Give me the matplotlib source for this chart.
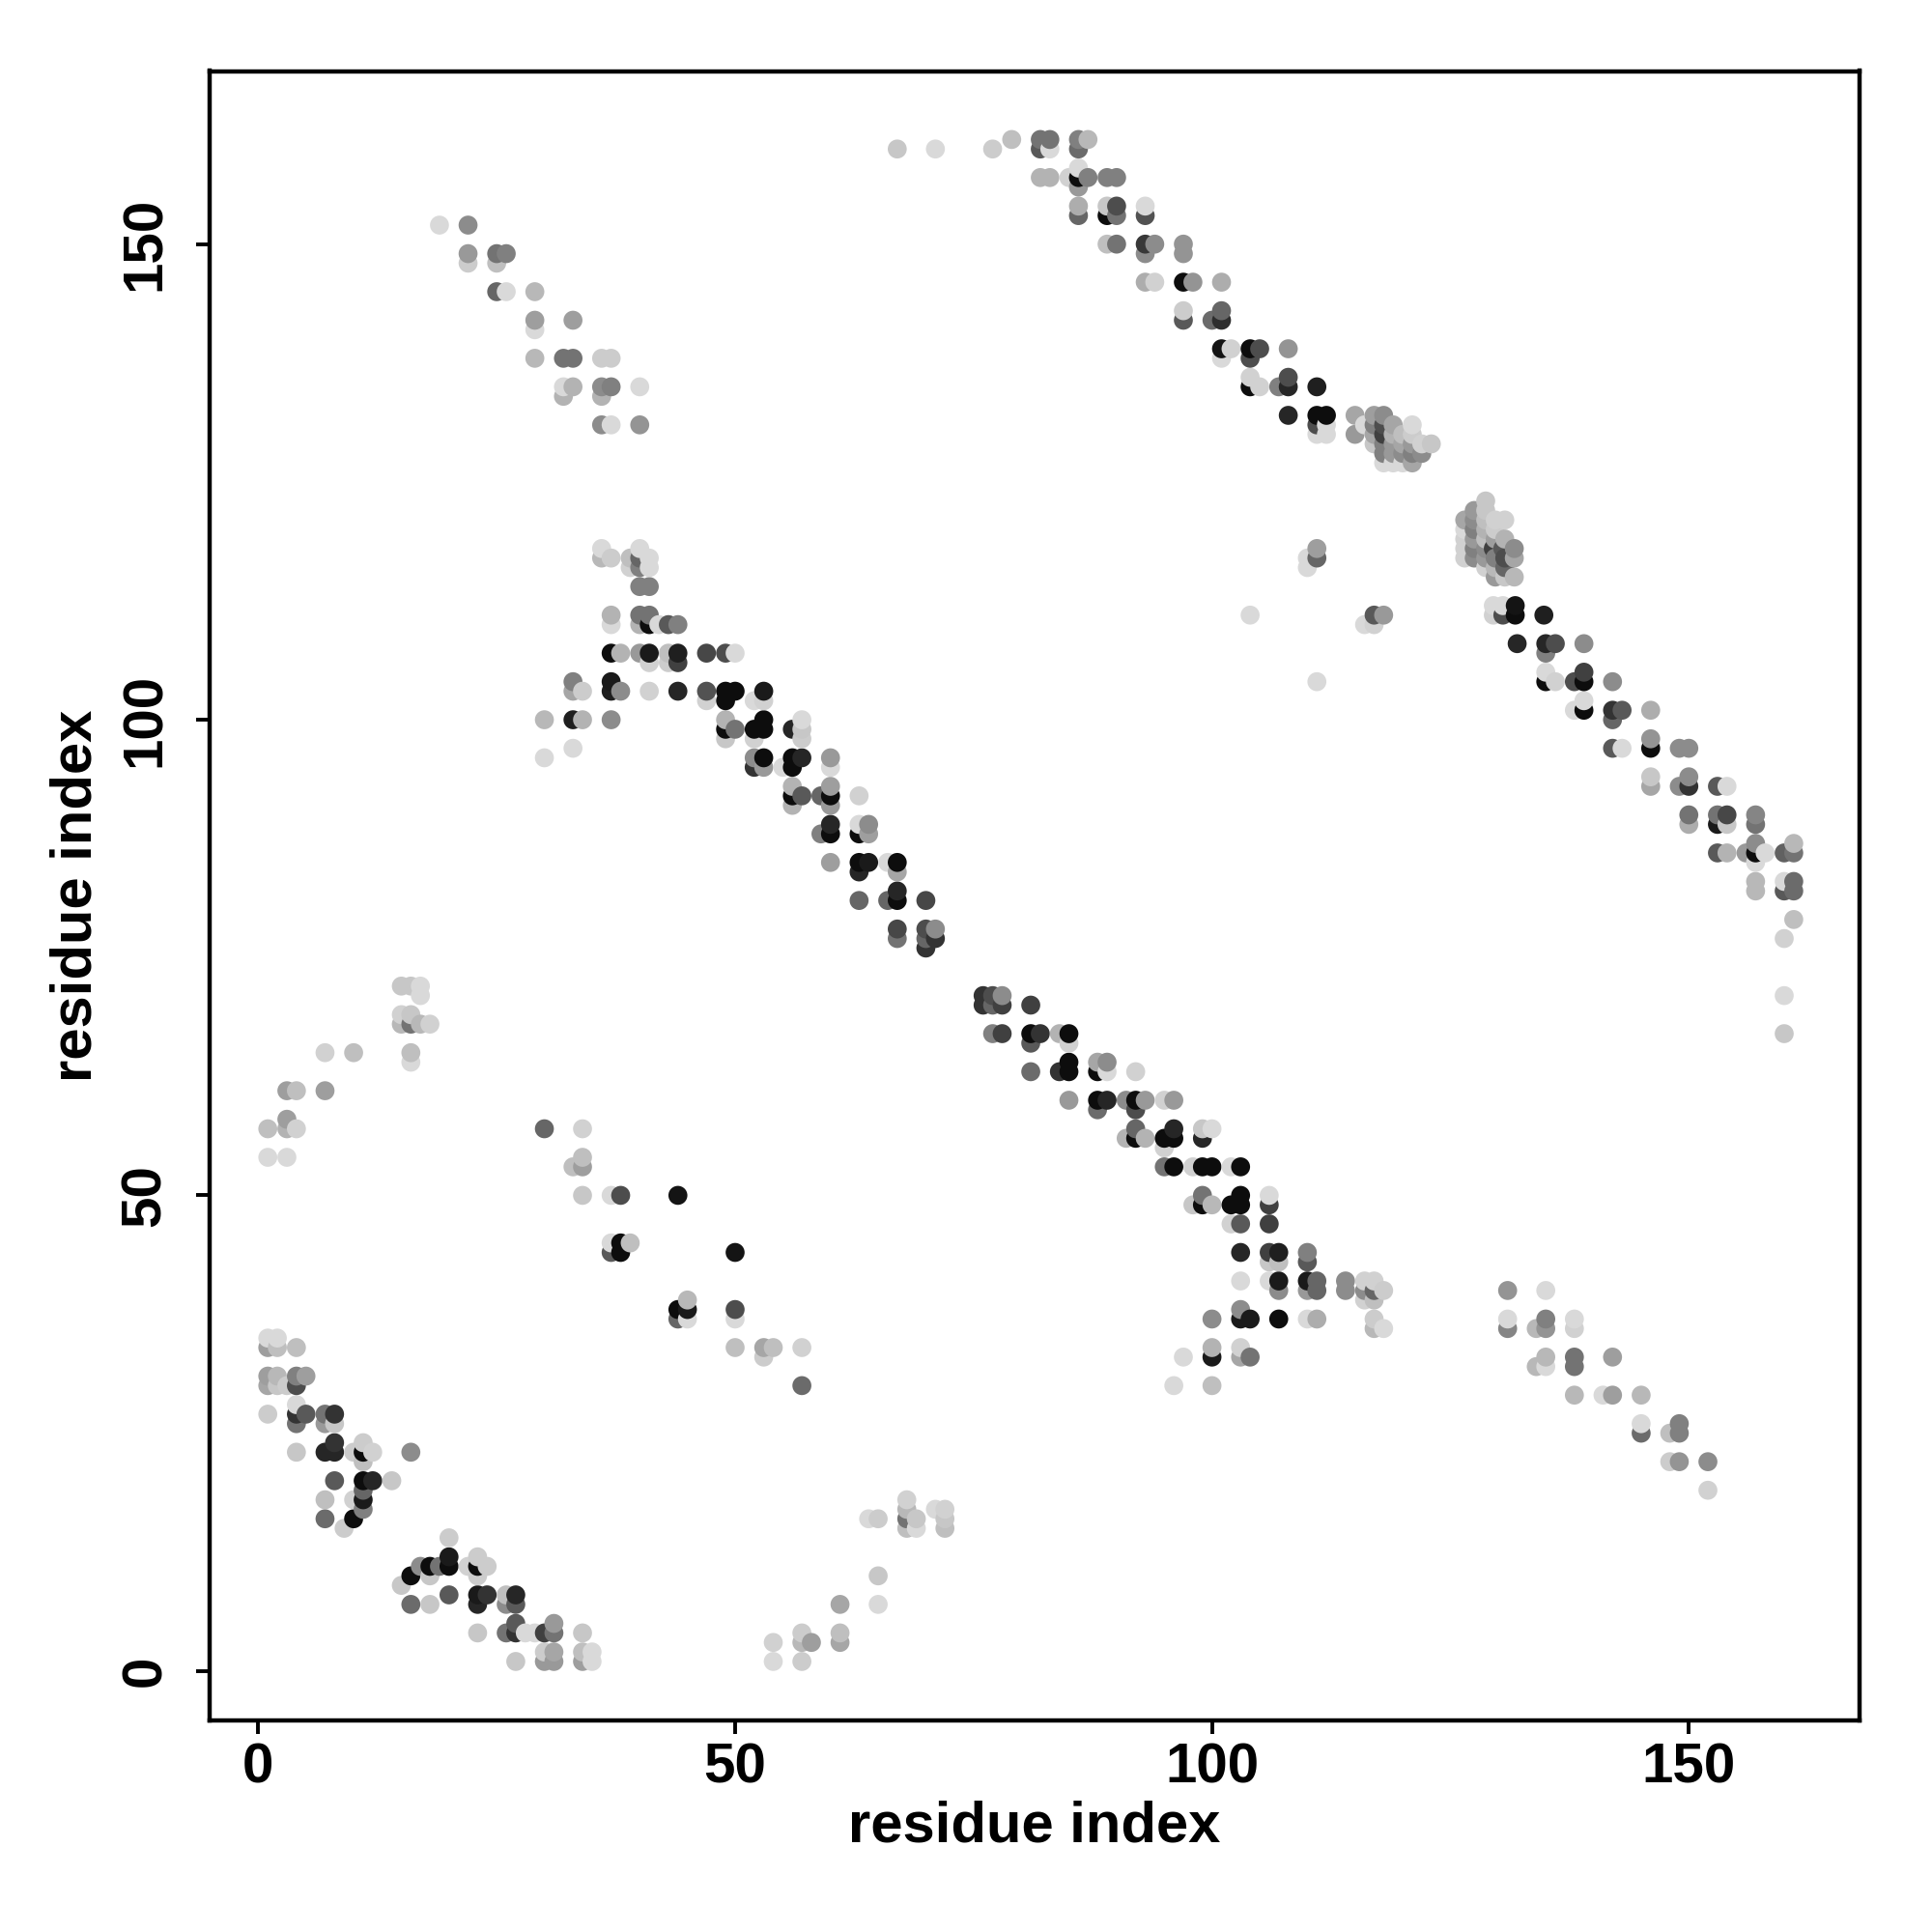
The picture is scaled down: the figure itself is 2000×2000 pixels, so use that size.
import matplotlib
matplotlib.use("Agg")
import matplotlib.pyplot as plt

# (residue i, residue j, grey level 0=black .. 1=white)
upper_left_band = [
    (19,152,.85),(22,152,.55),
    (22,149,.6),(25,149,.45),(26,149,.5),
    (22,148,.8),(25,148,.75),
    (25,145,.4),(26,145,.85),(29,145,.72),
    (29,142,.62),(33,142,.62),
    (29,141,.85),
    (29,138,.72),(32,138,.45),(33,138,.45),(36,138,.8),(37,138,.8),
    (32,135,.85),(33,135,.7),(36,135,.55),(37,135,.5),(40,135,.85),
    (32,134,.7),(36,134,.7),
    (36,131,.55),(37,131,.85),(40,131,.58),
]

central_band = [
    (36,118,.85),(40,118,.85),
    (36,117,.72),(37,117,.8),(39,117,.75),(40,117,.4),(41,117,.85),
    (39,116,.82),(40,116,.5),(41,116,.85),
    (40,114,.5),(41,114,.5),
    (37,111,.7),(40,111,.45),(41,111,.45),
    (37,110,.85),(40,110,.7),(41,110,.05),(42,110,.85),(43,110,.35),(44,110,.5),
    (37,107,.05),(38,107,.7),(40,107,.6),(41,107,.1),(43,107,.75),(44,107,.12),(47,107,.28),(49,107,.3),(50,107,.85),
    (41,106,.82),(43,106,.8),(44,106,.25),
    (33,104,.5),(37,104,.1),
    (33,103,.65),(34,103,.8),(37,103,.12),(38,103,.55),(41,103,.82),(44,103,.15),(47,103,.32),(49,103,.05),(50,103,.05),(53,103,.1),
    (47,102,.82),(49,102,.05),(52,102,.85),(53,102,.82),
    (30,100,.72),(33,100,.12),(34,100,.7),(37,100,.55),(49,100,.7),(53,100,.05),(57,100,.85),
    (49,99,.05),(50,99,.45),(52,99,.05),(53,99,.05),(56,99,.15),(57,99,.78),
    (49,98,.78),(52,98,.82),(57,98,.8),
    (33,97,.85),
    (30,96,.85),(52,96,.55),(53,96,.05),(56,96,.05),(57,96,.15),(60,96,.6),
    (52,95,.2),(53,95,.6),(55,95,.85),(56,95,.05),(60,95,.85),
    (56,93,.7),(60,93,.62),
    (56,92,.05),(57,92,.35),(59,92,.4),(60,92,.05),(63,92,.82),
    (56,91,.7),(60,91,.6),
    (60,89,.15),(63,89,.85),(64,89,.55),
    (59,88,.5),(60,88,.05),(63,88,.05),(64,88,.62),
    (60,85,.62),(63,85,.05),(64,85,.1),(66,85,.85),(67,85,.05),
    (63,84,.15),(67,84,.65),
    (67,82,.15),
    (63,81,.4),(66,81,.4),(67,81,.05),(70,81,.28),
    (67,78,.28),(70,78,.3),(71,78,.55),
    (67,77,.45),(70,77,.4),(71,77,.2),
    (70,76,.2),
]

upper_right_band = [
    (79,161,.75),(82,161,.45),(83,161,.45),(86,161,.5),(87,161,.72),
    (67,160,.78),(71,160,.85),(77,160,.8),(82,160,.35),(83,160,.85),(86,160,.42),
    (86,158,.85),
    (82,157,.7),(83,157,.7),(85,157,.82),(86,157,.05),(87,157,.5),(89,157,.5),(90,157,.5),
    (86,156,.6),
    (86,154,.68),(89,154,.78),(90,154,.3),(93,154,.85),
    (86,153,.4),(89,153,.05),(90,153,.45),(93,153,.32),
    (89,150,.75),(90,150,.45),(93,150,.22),(94,150,.55),(97,150,.58),
    (93,149,.55),(97,149,.58),
    (93,146,.68),(94,146,.82),(97,146,.05),(98,146,.58),(101,146,.68),
    (97,143,.8),(101,143,.4),
    (97,142,.35),(100,142,.42),(101,142,.18),
    (101,139,.08),(102,139,.82),(104,139,.05),(105,139,.3),(108,139,.58),
    (101,138,.85),(104,138,.3),
    (104,136,.82),(108,136,.3),
    (104,135,.05),(105,135,.82),(107,135,.5),(108,135,.15),(111,135,.12),
    (108,132,.15),(111,132,.05),(112,132,.05),
    (111,131,.3),(112,131,.85),
    (111,130,.85),(112,130,.85),
]

upper_right_cluster = [
    (115,132,.65),(117,132,.62),(118,132,.55),
    (116,131,.85),(117,131,.5),(118,131,.3),(119,131,.65),(121,131,.85),
    (115,130,.6),(117,130,.65),(118,130,.25),(119,130,.7),(120,130,.75),(121,130,.8),
    (117,129,.78),(118,129,.5),(119,129,.6),(120,129,.65),(121,129,.6),(122,129,.82),(123,129,.78),
    (118,128,.5),(119,128,.6),(120,128,.55),(121,128,.5),(122,128,.55),
    (118,127,.85),(119,127,.85),(120,127,.85),(121,127,.65),
]

scattered_mid = [
    (110,117,.85),(110,116,.85),(111,118,.62),(111,117,.4),
    (117,111,.35),(118,111,.6),(116,110,.85),(117,110,.82),
    (104,111,.85),(111,104,.85),
]

right_band = [
    (128.7,123,.78),
    (127.5,122,.6),(128.7,122,.78),
    (126.5,121,.65),(127.5,121,.55),(128.7,121,.75),(129.7,121,.82),(130.7,121,.82),
    (126.5,120,.85),(127.5,120,.5),(128.7,120,.7),(129.7,120,.8),
    (126.5,119,.82),(127.5,119,.6),(128.7,119,.75),(129.7,119,.62),(130.7,119,.7),
    (126.5,118,.82),(127.5,118,.5),(128.7,118,.55),(129.5,118,.25),(130.5,118,.35),(131.7,118,.55),
    (126.5,117,.82),(127.5,117,.55),(128.7,117,.6),(129.7,117,.5),(130.7,117,.3),(131.7,117,.65),
    (128.7,116,.82),(129.7,116,.72),(130.7,116,.4),
    (129.7,115,.6),(130.7,115,.78),(131.7,115,.72),
    (129.5,112,.85),(130.5,112,.85),(131.8,112,.08),
    (129.5,111,.82),(130.5,111,.3),(131.8,111,.05),(134.8,111,.12),
    (132,108,.15),(135,108,.15),(136,108,.3),(139,108,.55),
    (135,107,.5),
    (135,105,.85),(139,105,.25),
    (135,104,.05),(136,104,.82),(138,104,.3),(139,104,.05),(142,104,.55),
    (139,102,.85),
    (138,101,.85),(139,101,.05),(142,101,.2),(143,101,.35),(146,101,.68),
    (142,100,.4),
    (146,98,.58),
    (142,97,.35),(143,97,.85),(146,97,.05),(149,97,.55),(150,97,.55),
    (146,94,.78),(150,94,.55),
    (146,93,.65),(149,93,.55),(150,93,.2),(153,93,.35),(154,93,.85),
    (150,90,.45),(153,90,.45),(154,90,.28),(157,90,.52),
    (150,89,.68),(153,89,.1),(154,89,.78),(157,89,.45),
    (157,87,.55),(161,87,.72),
    (153,86,.35),(154,86,.7),(156,86,.6),(157,86,.05),(158,86,.85),(160,86,.38),(161,86,.45),
    (157,85,.85),
    (157,83,.72),(160,83,.85),(161,83,.42),
    (157,82,.72),(160,82,.35),(161,82,.42),
    (161,79,.75),
    (160,77,.82),
    (160,71,.85),
    (160,67,.78),
]

lower_central_band = [
    (76,71,.2),(77,71,.3),(78,71,.55),
    (76,70,.2),(77,70,.4),(78,70,.25),(81,70,.25),
    (77,67,.5),(78,67,.25),(81,67,.05),(82,67,.2),(84,67,.7),(85,67,.05),
    (81,66,.35),(85,66,.82),
    (85,64,.05),(88,64,.65),(89,64,.55),
    (81,63,.42),(84,63,.2),(85,63,.05),(88,63,.05),(89,63,.85),(92,63,.82),
    (85,60,.6),(88,60,.05),(89,60,.15),(91,60,.55),(92,60,.05),(93,60,.6),(95,60,.82),(96,60,.6),
    (88,59,.42),(92,59,.3),
    (92,57,.4),(96,57,.15),(99,57,.78),(100,57,.85),
    (91,56,.7),(92,56,.05),(93,56,.7),(95,56,.05),(96,56,.05),(99,56,.15),
    (95,55,.82),
    (95,53,.45),(96,53,.05),(98,53,.82),(99,53,.05),(100,53,.05),(102,53,.85),(103,53,.05),
    (99,50,.45),(103,50,.05),(106,50,.85),
    (98,49,.78),(99,49,.05),(100,49,.72),(102,49,.05),(103,49,.05),(106,49,.25),
    (102,47,.82),(103,47,.35),(106,47,.25),
    (103,44,.15),(106,44,.25),(107,44,.12),(110,44,.5),
    (106,43,.78),(107,43,.75),(110,43,.35),
    (103,41,.85),(106,41,.85),(107,41,.1),(110,41,.1),(111,41,.4),(114,41,.55),(116,41,.82),(117,41,.82),
    (107,40,.55),(110,40,.6),(111,40,.4),(114,40,.55),(116,40,.55),(117,40,.4),(118,40,.8),
    (116,39,.82),(117,39,.75),
    (103,38,.55),
    (100,37,.55),(103,37,.1),(104,37,.1),(107,37,.05),(110,37,.85),(111,37,.68),(117,37,.8),
    (117,36,.72),(118,36,.85),
    (100,34,.7),(103,34,.82),
    (97,33,.85),(100,33,.1),(103,33,.65),(104,33,.45),
    (96,30,.85),(100,30,.75),
]

lower_right_band = [
    (131,40,.58),(135,40,.85),
    (131,37,.85),(135,37,.5),(138,37,.85),
    (131,36,.52),(134,36,.72),(135,36,.58),(138,36,.82),
    (135,33,.72),(138,33,.45),(142,33,.62),
    (134,32,.72),(135,32,.85),(138,32,.45),
    (138,29,.72),(141,29,.85),(142,29,.62),(145,29,.72),
    (145,26,.85),(149,26,.5),
    (145,25,.42),(148,25,.75),(149,25,.5),
    (148,22,.8),(149,22,.58),(152,22,.55),
    (152,19,.82),
]

lower_left_band = [
    (1,35,.85),(2,35,.85),
    (1,34,.62),(2,34,.75),(4,34,.75),
    (1,31,.62),(2,31,.72),(4,31,.5),(5,31,.62),
    (1,30,.65),(2,30,.78),(3,30,.8),(4,30,.3),
    (4,28,.85),
    (1,27,.8),(4,27,.2),(5,27,.35),(7,27,.45),(8,27,.2),
    (4,26,.45),(7,26,.6),(8,26,.78),
    (8,24,.2),(11,24,.8),
    (4,23,.78),(7,23,.15),(8,23,.15),(10,23,.8),(11,23,.05),(12,23,.82),(16,23,.55),
    (11,22,.75),
    (8,20,.35),(11,20,.05),(12,20,.15),(14,20,.78),
    (11,19,.4),
    (7,18,.75),(10,18,.82),(11,18,.1),
    (11,17,.5),
    (7,16,.42),(10,16,.05),
    (9,15,.8),
    (20,14,.8),
    (20,12,.1),(23,12,.8),
    (17,11,.55),(18,11,.05),(19,11,.45),(20,11,.05),(22,11,.82),(23,11,.05),(24,11,.8),
    (16,10,.05),(18,10,.78),(23,10,.8),
    (15,9,.78),
    (20,8,.35),(23,8,.1),(24,8,.2),(26,8,.75),(27,8,.15),
    (16,7,.42),(18,7,.78),(23,7,.15),(26,7,.55),(27,7,.35),
    (27,5,.35),(31,5,.6),
    (23,4,.78),(26,4,.45),(27,4,.2),(28,4,.85),(29,4,.85),(30,4,.25),(31,4,.45),(34,4,.78),
    (30,2,.8),(31,2,.65),(34,2,.75),(35,2,.85),
    (27,1,.78),(30,1,.6),(31,1,.6),(34,1,.62),(35,1,.85),
]

left_mid_cluster = [
    (15,72,.78),(16,72,.78),(17,72,.85),
    (17,71,.85),
    (15,69,.82),(16,69,.78),
    (15,68,.72),(16,68,.45),(17,68,.72),(18,68,.82),
    (7,65,.82),(10,65,.75),(16,65,.75),
    (16,64,.85),
    (3,61,.62),(4,61,.75),(7,61,.62),
    (3,58,.62),
    (1,57,.75),(3,57,.7),(4,57,.82),
    (1,54,.85),(3,54,.85),
]

middle_cluster = [
    (30,57,.4),(34,57,.82),
    (34,54,.75),
    (33,53,.75),(34,53,.62),
    (34,50,.78),(37,50,.85),(38,50,.3),(44,50,.08),
    (37,45,.85),(38,45,.05),(39,45,.75),
    (37,44,.35),(38,44,.05),(50,44,.08),
    (45,39,.72),
    (44,38,.05),(45,38,.1),(50,38,.3),
    (44,37,.4),(45,37,.85),(50,37,.85),
    (50,34,.75),(53,34,.65),(54,34,.75),(57,34,.82),
    (53,33,.8),
    (57,30,.42),
]

bottom_mid_cluster = [
    (68,18,.82),
    (68,17,.72),(71,17,.85),(72,17,.82),
    (64,16,.85),(65,16,.8),(68,16,.45),(69,16,.78),(72,16,.78),
    (68,15,.75),(69,15,.85),(72,15,.75),
    (65,10,.78),
    (61,7,.65),(65,7,.85),
    (57,4,.8),(61,4,.75),
    (54,3,.82),(57,3,.72),(58,3,.62),(61,3,.65),
    (54,1,.85),(57,1,.8),
]

tick_values = [0, 50, 100, 150]
axis_title = "residue index"

clusters = [upper_left_band, central_band, upper_right_band, upper_right_cluster,
            scattered_mid, right_band, lower_central_band, lower_right_band,
            lower_left_band, left_mid_cluster, middle_cluster, bottom_mid_cluster]
points = sorted([p for c in clusters for p in c], key=lambda p: (p[0], p[1]))
xs = [p[0] for p in points]
ys = [p[1] for p in points]
cols = [(p[2], p[2], p[2]) for p in points]

plt.rcParams['font.family'] = ['Liberation Sans', 'DejaVu Sans']

fig = plt.figure(figsize=(10, 10), dpi=200)
left, bottom, right, top = 217/2000, 1 - 1781/2000, 1925/2000, 1 - 73.5/2000
ax = fig.add_axes([left, bottom, right - left, top - bottom])
ax.scatter(xs, ys, s=50, c=cols, linewidths=0, zorder=2)
ax.set_xlim(-5.1, 167.9)
ax.set_ylim(-5.2, 168.2)
ax.set_xticks(tick_values)
ax.set_yticks(tick_values)
ax.set_xticklabels([str(v) for v in tick_values], fontsize=21, fontweight='bold')
ax.set_yticklabels([str(v) for v in tick_values], fontsize=21, fontweight='bold',
                   rotation=90, va='center')
ax.tick_params(axis='x', direction='out', length=5, width=1.4, pad=3)
ax.tick_params(axis='y', direction='out', length=5, width=1.4, pad=9)
for sp in ax.spines.values():
    sp.set_linewidth(1.6)
    sp.set_color('black')

fig.text((left + right) / 2, 1 - 1891/2000, axis_title, ha='center', va='center',
         fontsize=21.5, fontweight='bold')
fig.text(79/2000, (bottom + top) / 2, axis_title, ha='center', va='center',
         rotation=90, fontsize=21.5, fontweight='bold')

fig.savefig("out.png", dpi=200, facecolor='white')
